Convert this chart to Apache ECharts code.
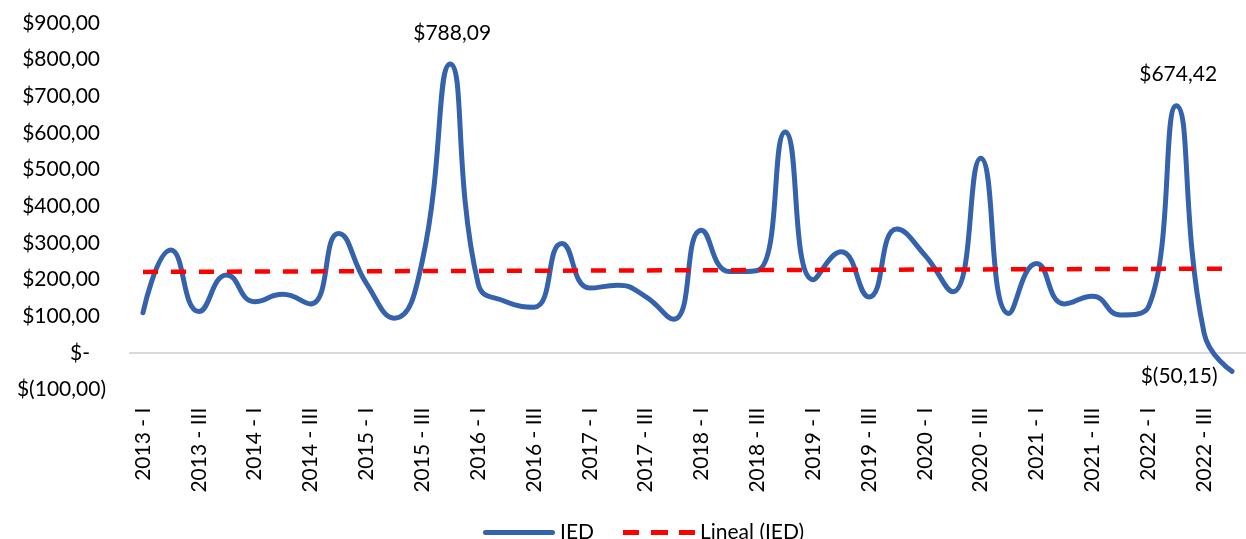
<!DOCTYPE html>
<html><head><meta charset="utf-8">
<script src="https://cdn.jsdelivr.net/npm/echarts@6/dist/echarts.min.js"></script>
<style>html,body{margin:0;padding:0;background:#fff}#c{width:1246px;height:539px}</style>
</head><body><div id="c"></div>
<script>
const categories = [
 '2013 - I','2013 - II','2013 - III','2013 - IV',
 '2014 - I','2014 - II','2014 - III','2014 - IV',
 '2015 - I','2015 - II','2015 - III','2015 - IV',
 '2016 - I','2016 - II','2016 - III','2016 - IV',
 '2017 - I','2017 - II','2017 - III','2017 - IV',
 '2018 - I','2018 - II','2018 - III','2018 - IV',
 '2019 - I','2019 - II','2019 - III','2019 - IV',
 '2020 - I','2020 - II','2020 - III','2020 - IV',
 '2021 - I','2021 - II','2021 - III','2021 - IV',
 '2022 - I','2022 - II','2022 - III','2022 - IV'
];
const iedValues = [
 110,281,113,213,140,160,134,326,190,95,
 250,788.09,190,140,125,299,177,185,154,92,
 335,222,225,603,200,276,153,338,267,167,
 531,108,244,134,155,104,125,674.42,54,-50.15
];
const labeledIndexes = [11,37,39];
const yTicks = {min:-100, max:900, interval:100};

function fmt(v){
  if (Math.abs(v) < 1e-9) return '$-';
  const s = Math.abs(v).toFixed(2).replace('.', ',');
  return v < 0 ? '$(' + s + ')' : '$' + s;
}

// least squares trendline (Excel "Lineal")
const n = iedValues.length;
let sx=0, sy=0, sxy=0, sxx=0;
iedValues.forEach((v,i)=>{ const x=i+1; sx+=x; sy+=v; sxy+=x*v; sxx+=x*x; });
const slope = (n*sxy - sx*sy)/(n*sxx - sx*sx);
const intercept = (sy - slope*sx)/n;
const trend = iedValues.map((v,i)=> intercept + slope*(i+1));

const FONT = 'Lato';
const BLUE = '#3462AC';
const seriesData = iedValues.map((v,i)=>{
  if (!labeledIndexes.includes(i)) return v;
  const neg = v < 0;
  return {value:v, label:{
    show:true,
    position: neg ? 'left' : 'top',
    distance: neg ? 14 : 20,
    offset: neg ? [0,5] : [2,0],
    formatter: p => fmt(p.value),
    fontFamily: FONT, fontSize: 21, color:'#000'
  }};
});

const chart = echarts.init(document.getElementById('c'), null, {renderer:'canvas'});
chart.setOption({
  animation:false,
  backgroundColor:'#fff',
  grid:{left:129, right:-7, top:23, bottom:149.3, containLabel:false},
  legend:{
    data:[
      {name:'IED', icon:'path://M2.5,0H69.5A2.5,2.5,0,0,1,69.5,5H2.5A2.5,2.5,0,0,1,2.5,0Z', itemStyle:{color:BLUE}},
      {name:'Lineal (IED)', icon:'path://M0,0H16V5H0Z M28,0H45V5H28Z M56,0H72V5H56Z', itemStyle:{color:'#FF0000'}}
    ],
    left:478, top:517,
    itemWidth:72, itemHeight:5, itemGap:29,
    textStyle:{fontFamily:FONT, fontSize:21, color:'#000'}
  },
  xAxis:{
    type:'category', data:categories, boundaryGap:true,
    axisLine:{show:false}, axisTick:{show:false},
    axisLabel:{interval:1, rotate:90, margin:18, fontFamily:FONT, fontSize:21, color:'#000'},
    splitLine:{show:false}
  },
  yAxis:{
    type:'value', min:yTicks.min, max:yTicks.max, interval:yTicks.interval,
    axisLine:{show:false}, axisTick:{show:false}, splitLine:{show:false},
    axisLabel:{
      margin:23, fontFamily:FONT, fontSize:21, color:'#000',
      formatter: v => {
        if (Math.abs(v) < 1e-9) return '{z|$-}';
        if (v < 0) return '{n|' + fmt(v) + '}';
        return '{p|' + fmt(v) + '}';
      },
      rich:{
        p:{fontFamily:FONT, fontSize:21, color:'#000', padding:[0,6,0,0]},
        z:{fontFamily:FONT, fontSize:21, color:'#000', padding:[0,16,0,0]},
        n:{fontFamily:FONT, fontSize:21, color:'#000'}
      }
    }
  },
  series:[
    {
      name:'IED', type:'line', data:seriesData, smooth:0.5,
      symbol:'circle', symbolSize:1, showSymbol:true, z:3,
      lineStyle:{color:BLUE, width:5, cap:'round'},
      itemStyle:{color:BLUE},
      markLine:{
        silent:true, symbol:'none', z:1,
        label:{show:false},
        lineStyle:{color:'#d9d9d9', width:2, type:'solid'},
        data:[{yAxis:0}]
      }
    },
    {
      name:'Lineal (IED)', type:'line', data:trend, symbol:'none', z:4,
      lineStyle:{color:'#FF0000', width:4.5, type:[15,13]},
      itemStyle:{color:'#FF0000'}
    }
  ]
});
</script>
</body></html>
